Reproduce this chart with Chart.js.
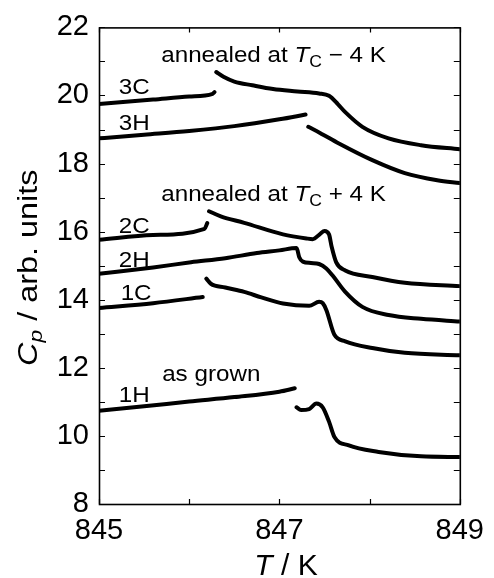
<!DOCTYPE html>
<html lang="en">
<head>
  <meta charset="UTF-8" />
  <title>Cp vs T - annealing runs</title>
  <script src="https://cdn.jsdelivr.net/npm/chart.js"></script>
  <style>
    body {
      margin: 0;
      padding: 0;
      background: #fff;
    }
    canvas {
      display: block;
    }
  </style>
</head>
<body>

  <canvas id="cpChart" width="494" height="578"></canvas>

  <script>
    // axis ranges and tick labels
    const tRange = [845, 849];
    const cpRange = [8, 22];
    const tLabels = [845, 847, 849];
    const cpLabels = [8, 10, 12, 14, 16, 18, 20, 22];

    // 3C (cooling, annealed at Tc - 4 K)
    const t3C_lo  = [845.0, 845.6, 846.0, 846.26, 846.28];
    const cp3C_lo = [19.75, 19.88, 19.97, 20.05, 20.10];
    const t3C_hi  = [846.30, 846.38, 846.5, 846.7, 846.93, 847.2, 847.44, 847.55, 847.65, 847.73, 847.92, 848.21, 848.57, 849.0];
    const cp3C_hi = [20.69, 20.55, 20.41, 20.30, 20.19, 20.12, 20.06, 19.99, 19.74, 19.51, 19.08, 18.74, 18.54, 18.42];

    // 3H (heating)
    const t3H_lo  = [845.0, 845.5, 846.0, 846.5, 847.0, 847.29];
    const cp3H_lo = [18.74, 18.85, 18.96, 19.10, 19.30, 19.44];
    const t3H_hi  = [847.32, 847.45, 847.66, 848.03, 848.39, 848.75, 849.0];
    const cp3H_hi = [19.08, 18.90, 18.59, 18.10, 17.72, 17.51, 17.43];

    // 2C (cooling, annealed at Tc + 4 K)
    const t2C_lo  = [845.0, 845.6, 846.17, 846.2];
    const cp2C_lo = [15.76, 15.90, 16.08, 16.25];
    const t2C_hi  = [846.22, 846.35, 846.61, 847.04, 847.3, 847.37, 847.45, 847.50, 847.55, 847.58, 847.63, 847.73, 848.03, 848.39, 849.0];
    const cp2C_hi = [16.60, 16.45, 16.26, 15.92, 15.80, 15.78, 15.93, 16.02, 15.92, 15.55, 15.10, 14.86, 14.67, 14.50, 14.40];

    // 2H (heating)
    const t2H  = [845.0, 845.6, 846.02, 846.4, 846.75, 847.0, 847.19, 847.22, 847.26, 847.35, 847.44, 847.52, 847.59, 847.73, 847.92, 848.21, 848.57, 849.0];
    const cp2H = [14.76, 14.95, 15.10, 15.22, 15.37, 15.45, 15.52, 15.25, 15.12, 15.08, 15.05, 14.92, 14.71, 14.23, 13.79, 13.55, 13.44, 13.36];

    // 1C (cooling, as grown)
    const t1C_lo  = [845.0, 845.6, 846.15];
    const cp1C_lo = [13.76, 13.90, 14.08];
    const t1C_hi  = [846.19, 846.24, 846.4, 846.61, 846.8, 847.04, 847.33, 847.44, 847.48, 847.52, 847.61, 847.73, 848.03, 848.39, 849.0];
    const cp1C_hi = [14.62, 14.47, 14.36, 14.23, 14.07, 13.89, 13.82, 13.94, 13.90, 13.70, 12.97, 12.78, 12.58, 12.44, 12.37];

    // 1H (heating, as grown)
    const t1H_lo  = [845.0, 845.5, 846.0, 846.5, 847.0, 847.17];
    const cp1H_lo = [10.74, 10.87, 11.01, 11.14, 11.30, 11.40];
    const t1H_hi  = [847.19, 847.24, 847.33, 847.41, 847.48, 847.55, 847.61, 847.77, 848.10, 848.57, 849.0];
    const cp1H_hi = [10.84, 10.76, 10.79, 10.95, 10.84, 10.42, 9.97, 9.72, 9.53, 9.40, 9.38];

    // text labels inside the plot (anchored in data coordinates)
    const noteText = ['annealed at T_C \u2212 4 K', 'annealed at T_C + 4 K', 'as grown', '3C', '3H', '2C', '2H', '1C', '1H'];
    const noteT    = [845.69, 845.69, 845.70, 845.22, 845.22, 845.22, 845.22, 845.24, 845.22];
    const noteCp   = [20.98, 16.90, 11.61, 20.04, 18.98, 15.97, 14.96, 13.99, 11.01];

    const segments = [
      [t3C_lo, cp3C_lo], [t3C_hi, cp3C_hi],
      [t3H_lo, cp3H_lo], [t3H_hi, cp3H_hi],
      [t2C_lo, cp2C_lo], [t2C_hi, cp2C_hi],
      [t2H, cp2H],
      [t1C_lo, cp1C_lo], [t1C_hi, cp1C_hi],
      [t1H_lo, cp1H_lo], [t1H_hi, cp1H_hi]
    ];

    const FONT = '"Liberation Sans", Arial, sans-serif';

    // draw a run of text pieces, stretched horizontally a bit like the original
    function drawParts(ctx, parts, stretch) {
      ctx.save();
      ctx.scale(stretch, 1);
      let cx = 0;
      parts.forEach(p => {
        ctx.font = p.font;
        ctx.fillText(p.text, cx, p.dy || 0);
        cx += ctx.measureText(p.text).width;
      });
      ctx.restore();
    }

    function partsWidth(ctx, parts, stretch) {
      let w = 0;
      parts.forEach(p => {
        ctx.font = p.font;
        w += ctx.measureText(p.text).width;
      });
      return w * stretch;
    }

    function noteParts(text) {
      const plain = '22px ' + FONT;
      const i = text.indexOf('T_C');
      if (i < 0) return [{ text: text, font: plain }];
      return [
        { text: text.slice(0, i), font: plain },
        { text: 'T', font: 'italic ' + plain },
        { text: 'C', font: '16px ' + FONT, dy: 5 },
        { text: text.slice(i + 3), font: plain }
      ];
    }

    const framePlugin = {
      id: 'frame',
      afterDraw(chart) {
        const ctx = chart.ctx;
        const a = chart.chartArea;
        const xs = chart.scales.x;
        const ys = chart.scales.y;
        ctx.save();
        ctx.strokeStyle = '#000';
        ctx.fillStyle = '#000';

        // inward tick marks on all four sides
        ctx.lineWidth = 1.2;
        ctx.beginPath();
        ys.ticks.forEach(t => {
          const py = Math.round(ys.getPixelForValue(t.value)) + 0.5;
          ctx.moveTo(a.left, py); ctx.lineTo(a.left + 6, py);
          ctx.moveTo(a.right, py); ctx.lineTo(a.right - 6, py);
        });
        xs.ticks.forEach(t => {
          const px = Math.round(xs.getPixelForValue(t.value)) + 0.5;
          ctx.moveTo(px, a.bottom); ctx.lineTo(px, a.bottom - 5);
          ctx.moveTo(px, a.top); ctx.lineTo(px, a.top + 5);
        });
        ctx.stroke();

        // box
        ctx.lineWidth = 1.6;
        ctx.strokeRect(a.left + 0.5, a.top + 0.5, a.right - a.left, a.bottom - a.top);

        // annotations
        ctx.textBaseline = 'alphabetic';
        ctx.textAlign = 'left';
        noteText.forEach((txt, i) => {
          ctx.save();
          ctx.translate(xs.getPixelForValue(noteT[i]), ys.getPixelForValue(noteCp[i]));
          drawParts(ctx, noteParts(txt), 1.1);
          ctx.restore();
        });

        // x title: T / K
        const xt = [
          { text: 'T', font: 'italic 30px ' + FONT },
          { text: ' / K', font: '30px ' + FONT }
        ];
        const xw = partsWidth(ctx, xt, 1);
        ctx.save();
        ctx.translate(286 - xw / 2, 575);
        drawParts(ctx, xt, 1);
        ctx.restore();

        // y title: Cp / arb. units
        const yt = [
          { text: 'C', font: 'italic 27px ' + FONT },
          { text: 'p', font: 'italic 19px ' + FONT, dy: 5 },
          { text: ' / arb. units', font: '27px ' + FONT }
        ];
        const stretchY = 1.2;
        const yw = partsWidth(ctx, yt, stretchY);
        const midY = (a.top + a.bottom) / 2;
        ctx.save();
        ctx.translate(37, midY + yw / 2 + 2);
        ctx.rotate(-Math.PI / 2);
        drawParts(ctx, yt, stretchY);
        ctx.restore();

        ctx.restore();
      }
    };

    new Chart(document.getElementById('cpChart').getContext('2d'), {
      type: 'line',
      data: {
        datasets: segments.map(([t, cp]) => ({
          data: t.map((x, i) => ({ x: x, y: cp[i] })),
          borderColor: '#000',
          borderWidth: 4,
          borderCapStyle: 'round',
          borderJoinStyle: 'round',
          pointRadius: 0,
          fill: false,
          cubicInterpolationMode: 'monotone'
        }))
      },
      options: {
        responsive: false,
        animation: false,
        layout: { padding: { top: 23, right: 28, left: 0, bottom: 0 } },
        scales: {
          x: {
            type: 'linear',
            min: tRange[0],
            max: tRange[1],
            grid: { display: false, drawTicks: false },
            border: { display: false },
            afterFit: s => { s.height = 74; },
            ticks: {
              stepSize: 1,
              autoSkip: false,
              maxRotation: 0,
              padding: 10,
              color: '#000',
              font: { family: FONT, size: 29 },
              callback: v => tLabels.includes(v) ? String(v) : ''
            }
          },
          y: {
            type: 'linear',
            min: cpRange[0],
            max: cpRange[1],
            grid: { display: false, drawTicks: false },
            border: { display: false },
            afterFit: s => { s.width = 99; },
            ticks: {
              stepSize: 1,
              autoSkip: false,
              padding: 10,
              color: '#000',
              font: { family: FONT, size: 29 },
              callback: v => cpLabels.includes(v) ? String(v) : ''
            }
          }
        },
        plugins: {
          legend: { display: false },
          tooltip: { enabled: false }
        }
      },
      plugins: [framePlugin]
    });
  </script>

</body>
</html>
